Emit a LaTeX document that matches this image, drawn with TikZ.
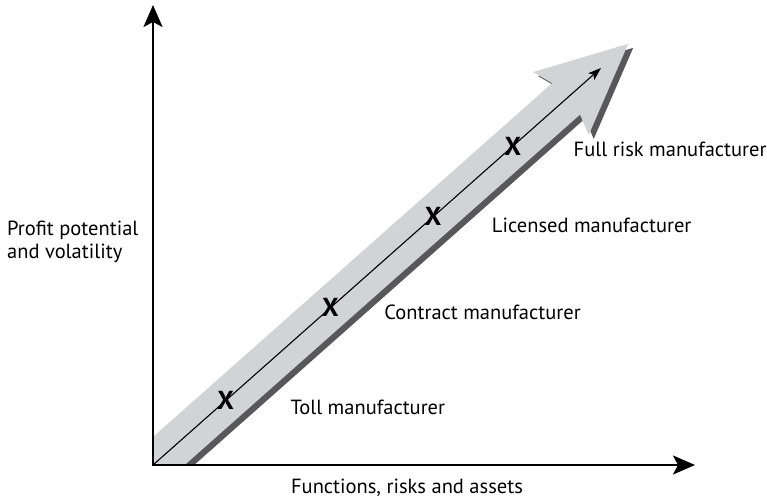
\documentclass[tikz,border=0pt]{standalone}
\usepackage{fontspec}
\setmainfont{PT Sans}
\usetikzlibrary{arrows.meta,positioning}
\definecolor{bandgrey}{RGB}{210,211,213}
\definecolor{shadowgrey}{RGB}{88,88,90}

\begin{document}
\begin{tikzpicture}[x=1pt,y=1pt,font=\fontsize{20.5}{23.5}\selectfont]
  \tikzstyle{axis}=[line width=2.4pt,line join=miter,
    {Stealth[length=22pt,width=19pt,inset=5pt]}-{Stealth[length=22pt,width=19pt,inset=5pt]}]
  \tikzstyle{trend}=[line width=1.1pt,-{Stealth[length=13pt,width=9pt,inset=3pt]}]
  \tikzstyle{xmark}=[font=\fontsize{26}{26}\selectfont\bfseries,inner sep=0pt]
  \tikzstyle{level}=[inner sep=0pt,node distance=52pt]

  \useasboundingbox (0,0) rectangle (767,503);
  \coordinate (O) at (153,38);
  \coordinate (ytop) at (153,498);
  \coordinate (xend) at (695,38);
  \coordinate (head) at (601,435);

  % broad arrow and its shadow, cut off by the axes
  \begin{scope}
    \clip (O) rectangle (767,503);
    \fill[shadowgrey,shift={(158,34)},rotate=41.55]
      (-80,-21) -- (552,-21) -- (545,-42) -- (635,0) -- (545,42) -- (552,21) -- (-80,21) -- cycle;
    \fill[bandgrey,shift={(153,38)},rotate=41.55]
      (-80,-21) -- (552,-21) -- (545,-42) -- (635,0) -- (545,42) -- (552,21) -- (-80,21) -- cycle;
  \end{scope}

  \draw[trend] (O) -- (head)
    node[xmark,pos=.162] (x1) {X}
    node[xmark,pos=.396] (x2) {X}
    node[xmark,pos=.625] (x3) {X}
    node[xmark,pos=.803] (x4) {X};

  \node[level,right=56pt of x1,yshift=-7pt] (toll)     {Toll manufacturer};
  \node[level,right=45pt of x2,yshift=-5pt] (contract) {Contract manufacturer};
  \node[level,right=50pt of x3,yshift=-8pt] (licensed) {Licensed manufacturer};
  \node[level,right=52pt of x4,yshift=-3pt] (fullrisk) {Full risk manufacturer};

  \draw[axis] (ytop) -- (O) -- (xend);

  \node[align=left,anchor=west,inner sep=0pt] (ylabel) at (7,261) {Profit potential\\and volatility};
  \node[inner sep=0pt] (xlabel) at (407,15) {Functions, risks and assets};
\end{tikzpicture}
\end{document}
